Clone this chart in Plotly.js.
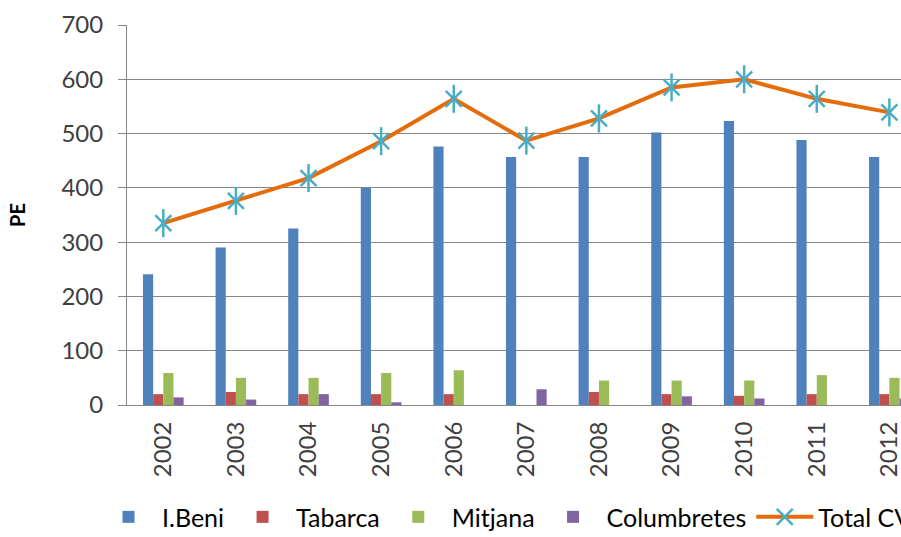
<!DOCTYPE html>
<html>
<head>
<meta charset="utf-8">
<script src="https://cdn.plot.ly/plotly-3.0.1.min.js"></script>
<style>html,body{margin:0;padding:0;background:#fff;}#chart{width:901px;height:537px;}</style>
</head>
<body>
<div id="chart"></div>
<script>
var years = ['2002','2003','2004','2005','2006','2007','2008','2009','2010','2011','2012'];
var iBeni = [241, 290, 325, 400, 476, 457, 457, 502, 523, 488, 457];
var tabarca = [20, 24, 20, 20, 20, 0, 24, 20, 17, 20, 20];
var mitjana = [59, 50, 50, 59, 64, 0, 45, 45, 45, 55, 50];
var columbretes = [14, 10, 20, 5, 0, 29, 0, 16, 12, 0, 12];
var totalCV = [335, 376, 418, 486, 564, 487, 528, 585, 600, 564, 539];
var yTicks = [0, 100, 200, 300, 400, 500, 600, 700];

var font = 'Lato, "Open Sans", sans-serif';
var textCol = '#404040';

var traces = [
  {type:'bar', name:'I.Beni', x:years, y:iBeni, marker:{color:'#4F81BD'}},
  {type:'bar', name:'Tabarca', x:years, y:tabarca, marker:{color:'#C0504D'}},
  {type:'bar', name:'Mitjana', x:years, y:mitjana, marker:{color:'#9BBB59'}},
  {type:'bar', name:'Columbretes', x:years, y:columbretes, marker:{color:'#8064A2'}},
  {type:'scatter', mode:'lines+markers', name:'Total CV', x:years, y:totalCV,
   line:{color:'#E46C0A', width:4},
   marker:{symbol:'x-thin-open', size:16, color:'#4BACC6', line:{color:'#4BACC6', width:2.5}}},
  {type:'scatter', mode:'markers', name:'Total CV', showlegend:false, x:years, y:totalCV,
   marker:{symbol:'line-ns-open', size:20, color:'#4BACC6', line:{color:'#4BACC6', width:2.5}}}
];

var layout = {
  width:901, height:537,
  margin:{l:127, r:0, t:25, b:132, autoexpand:false},
  paper_bgcolor:'#fff', plot_bgcolor:'#fff',
  barmode:'group', bargap:0.44, bargroupgap:0,
  font:{family:font, color:textCol},
  showlegend:true,
  legend:{orientation:'h', x:-0.0413, xanchor:'left', y:-0.295, yanchor:'middle',
          font:{family:font, size:25, color:'#000'}, itemwidth:57, tracegroupgap:0},
  xaxis:{type:'category', range:[-0.5, 10.16], tickangle:-90, showgrid:false,
         showline:true, linecolor:'#868686', linewidth:1, ticks:'', ticklabelstandoff:6,
         tickfont:{family:font, size:24, color:textCol}, fixedrange:true},
  yaxis:{range:[0,700], tickvals:yTicks, showgrid:true, gridcolor:'#868686', gridwidth:1,
         showline:true, linecolor:'#868686', linewidth:1, ticks:'outside', ticklen:8, tickcolor:'#868686',
         ticklabelstandoff:10,
         tickfont:{family:font, size:24, color:textCol}, zeroline:false,
         title:{text:'<b>PE</b>', font:{family:font, size:20, color:'#000'}, standoff:30}}
};

Plotly.newPlot('chart', traces, layout, {displayModeBar:false, staticPlot:true});
</script>
</body>
</html>
